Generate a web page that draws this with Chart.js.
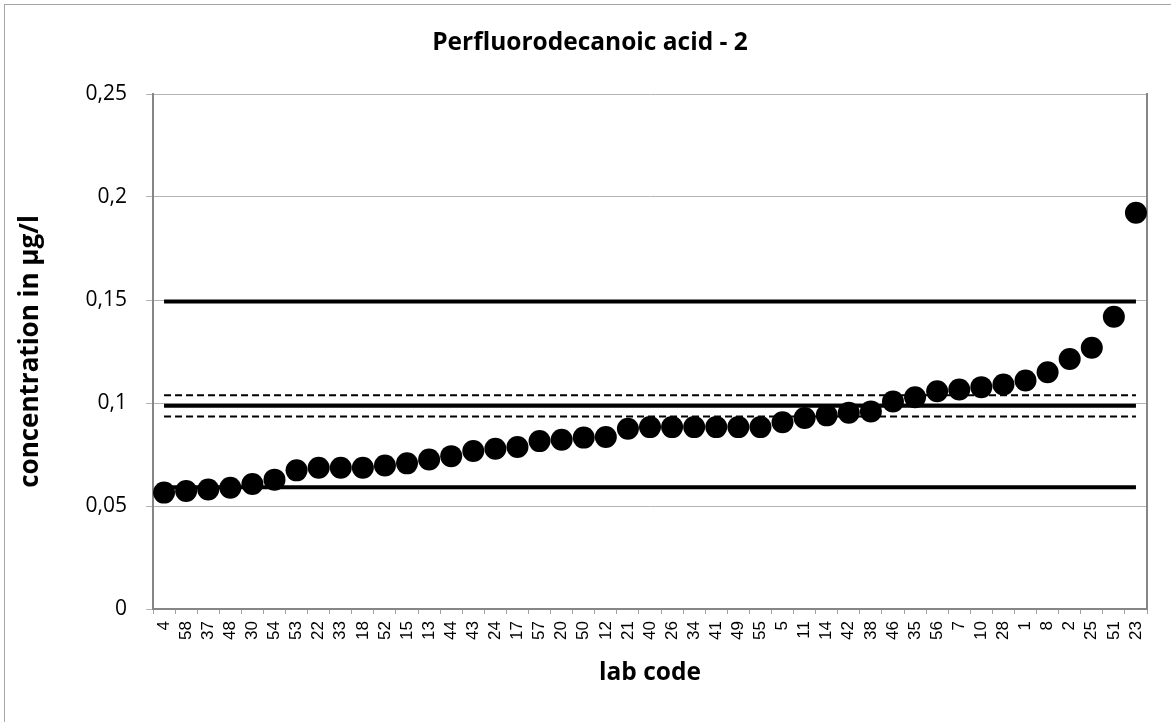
<!DOCTYPE html>
<html>
<head>
<meta charset="utf-8">
<script src="https://cdn.jsdelivr.net/npm/chart.js@4/dist/chart.umd.min.js"></script>
<style>
  html, body { margin: 0; padding: 0; background: #fff; overflow: hidden; }
  #wrap { position: relative; width: 1171px; height: 722px; }
  #frame { position: absolute; left: 4px; top: 4px; width: 1200px; height: 800px; border: 1px solid #a6a6a6; pointer-events: none; }
</style>
</head>
<body>
<div id="wrap">
  <canvas id="chart" width="1171" height="722"></canvas>
  <div id="frame"></div>
</div>
<script>
const labCodes = ['4','58','37','48','30','54','53','22','33','18','52','15','13','44','43','24','17','57','20','50','12','21','40','26','34','41','49','55','5','11','14','42','38','46','35','56','7','10','28','1','8','2','25','51','23'];
const concentrations = [0.0565,0.0573,0.0580,0.0589,0.0607,0.0628,0.0673,0.0686,0.0686,0.0686,0.0697,0.0707,0.0726,0.0742,0.0767,0.0778,0.0786,0.0815,0.0822,0.0832,0.0835,0.0875,0.0883,0.0883,0.0883,0.0883,0.0883,0.0883,0.0907,0.0927,0.0940,0.0953,0.0959,0.1007,0.1028,0.1057,0.1066,0.1077,0.1090,0.1109,0.1149,0.1214,0.1268,0.1419,0.1924];
const assignedValue = 0.0987;
const uncertaintyHigh = 0.1038;
const uncertaintyLow = 0.0935;
const toleranceHigh = 0.1493;
const toleranceLow = 0.0591;
const yTicks = [0, 0.05, 0.1, 0.15, 0.2, 0.25];

const flat = v => labCodes.map(() => v);
const axisGrey = '#868686';
const gridGrey = '#b4b4b4';

function refLine(value, width, dash) {
  return { type: 'line', data: flat(value), borderColor: '#000', borderWidth: width, borderDash: dash, pointRadius: 0, fill: false, tension: 0, order: 2 };
}

new Chart(document.getElementById('chart'), {
  data: {
    labels: labCodes,
    datasets: [
      { type: 'line', data: concentrations, showLine: false, pointRadius: 11, pointHoverRadius: 11, pointBackgroundColor: '#000', pointBorderColor: '#000', pointBorderWidth: 0, order: 1 },
      refLine(toleranceHigh, 4, []),
      refLine(uncertaintyHigh, 2, [7, 4]),
      refLine(assignedValue, 4, []),
      refLine(uncertaintyLow, 2, [7, 4]),
      refLine(toleranceLow, 4, [])
    ]
  },
  options: {
    responsive: false,
    animation: false,
    layout: { padding: { left: 9, right: 0, top: 0, bottom: 0 } },
    plugins: {
      legend: { display: false },
      tooltip: { enabled: false },
      title: { display: true, text: 'Perfluorodecanoic acid - 2', color: '#000', font: { family: 'Open Sans', size: 24.5, weight: 'bold', lineHeight: 1.2 }, padding: { top: 28.3, bottom: 36.3 } }
    },
    scales: {
      x: {
        type: 'category', offset: true,
        grid: { display: true, offset: true, drawOnChartArea: false, drawTicks: true, tickLength: 5, color: '#a0a0a0' },
        border: { display: true, color: axisGrey, width: 2 },
        ticks: { autoSkip: false, maxRotation: 90, minRotation: 90, color: '#000', padding: 7, font: { family: 'Liberation Sans', size: 17 } },
        title: { display: true, text: 'lab code', color: '#000', font: { family: 'Open Sans', size: 24.5, weight: 'bold', lineHeight: 1.2 }, padding: { top: 0, bottom: 34 } },
        afterFit: s => { s.height = 113; }
      },
      y: {
        min: 0, max: 0.25,
        afterBuildTicks: s => { s.ticks = yTicks.map(v => ({ value: v })); },
        grid: { color: gridGrey, lineWidth: 1, tickLength: 7 },
        border: { display: true, color: axisGrey, width: 2 },
        ticks: { color: '#000', padding: 19, font: { family: 'Open Sans', size: 21 }, callback: v => String(Number(v.toFixed(2))).replace('.', ',') },
        title: { display: true, text: 'concentration in µg/l', color: '#000', font: { family: 'Open Sans', size: 26, weight: 'bold', lineHeight: 1.2 }, padding: { top: 6.4, bottom: 0 } },
        afterFit: s => { s.width = 144; }
      },
      y2: {
        position: 'right', display: true,
        grid: { display: false },
        ticks: { display: false },
        border: { display: true, color: axisGrey, width: 2 },
        afterFit: s => { s.width = 24; }
      }
    }
  }
});
</script>
</body>
</html>
